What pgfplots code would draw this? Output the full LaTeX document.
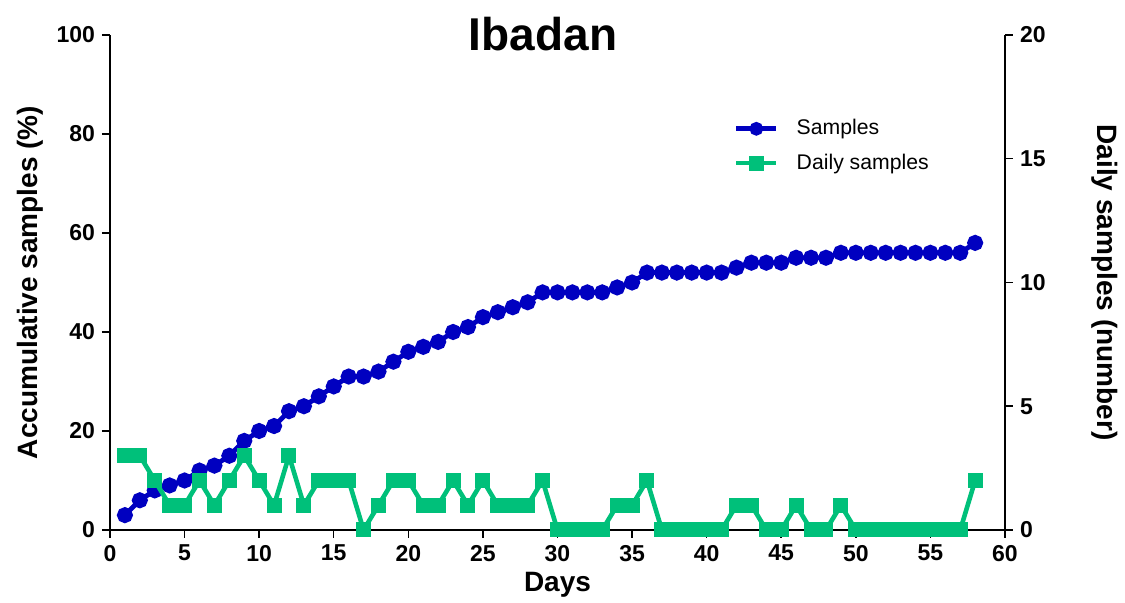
\documentclass[border=0pt]{standalone}
\usepackage{pgfplots}
\pgfplotsset{compat=1.18}
\usepackage{pgfplotstable}
\usepackage{fontspec}
\setmainfont{Liberation Sans}

\definecolor{cumblue}{RGB}{0,0,192}
\definecolor{daygreen}{RGB}{0,192,122}

% day, cumulative samples, daily samples
\pgfplotstableread{
day cum daily
1 3 3
2 6 3
3 8 2
4 9 1
5 10 1
6 12 2
7 13 1
8 15 2
9 18 3
10 20 2
11 21 1
12 24 3
13 25 1
14 27 2
15 29 2
16 31 2
17 31 0
18 32 1
19 34 2
20 36 2
21 37 1
22 38 1
23 40 2
24 41 1
25 43 2
26 44 1
27 45 1
28 46 1
29 48 2
30 48 0
31 48 0
32 48 0
33 48 0
34 49 1
35 50 1
36 52 2
37 52 0
38 52 0
39 52 0
40 52 0
41 52 0
42 53 1
43 54 1
44 54 0
45 54 0
46 55 1
47 55 0
48 55 0
49 56 1
50 56 0
51 56 0
52 56 0
53 56 0
54 56 0
55 56 0
56 56 0
57 56 0
58 58 2
}\datatable

\pgfplotsset{
  ibadan/.style={
    scale only axis,
    width=447.5pt, height=247.5pt,
    xmin=0, xmax=60,
    clip=false,
    axis line style={line width=0.75pt},
    tick style={line width=0.75pt, black},
    major tick length=4pt,
    tick align=outside,
    ticklabel style={font=\fontsize{11.5}{13}\selectfont\bfseries},
    /pgf/number format/assume math mode=true,
  }
}

\begin{document}
\begin{tikzpicture}
\begin{axis}[
  ibadan,
  axis x line*=bottom,
  axis y line*=left,
  ymin=0, ymax=100,
  xtick={0,5,...,60},
  ytick={0,20,...,100},
  xlabel={Days},
  ylabel={Accumulative samples (\%)},
  xlabel style={at={(axis description cs:0.5,-0.111)}, anchor=center,
    font=\fontsize{14}{16}\selectfont\bfseries},
  ylabel style={at={(axis description cs:-0.0894,0.5)}, anchor=center,
    font=\fontsize{14}{16}\selectfont\bfseries},
  title={Ibadan},
  title style={at={(axis description cs:0.4838,0.945)}, anchor=base,
    font=\fontsize{23}{26}\selectfont\bfseries},
]
\addplot[cumblue, line width=2.4pt, mark=*, mark size=2.8pt]
  table[x=day, y=cum] {\datatable};
\end{axis}

\begin{axis}[
  ibadan,
  axis x line=none,
  axis y line*=right,
  ymin=0, ymax=20,
  ytick={0,5,...,20},
  ylabel={Daily samples (number)},
  ylabel style={at={(axis description cs:1.1117,0.5)}, anchor=center,
    rotate=180, font=\fontsize{14}{16}\selectfont\bfseries},
  legend style={at={(axis description cs:0.69,0.846)}, anchor=north west,
    draw=none, fill=none, font=\fontsize{10.6}{13}\selectfont,
    row sep=4pt, /tikz/every odd column/.append style={column sep=7pt}},
  legend cell align=left,
  legend image code/.code={
    \draw[mark repeat=2, mark phase=2] plot coordinates {(0pt,0pt) (10pt,0pt) (20pt,0pt)};
  },
]
\addlegendimage{cumblue, line width=2.4pt, mark=*, mark size=2.2pt}
\addlegendentry{Samples}
\addplot[daygreen, line width=2.3pt, mark=square*, mark size=2.6pt]
  table[x=day, y=daily] {\datatable};
\addlegendentry{Daily samples}
\end{axis}

\pgfresetboundingbox
\path[use as bounding box] (-55pt,-36.5pt) rectangle (507.5pt,265pt);
\end{tikzpicture}
\end{document}
